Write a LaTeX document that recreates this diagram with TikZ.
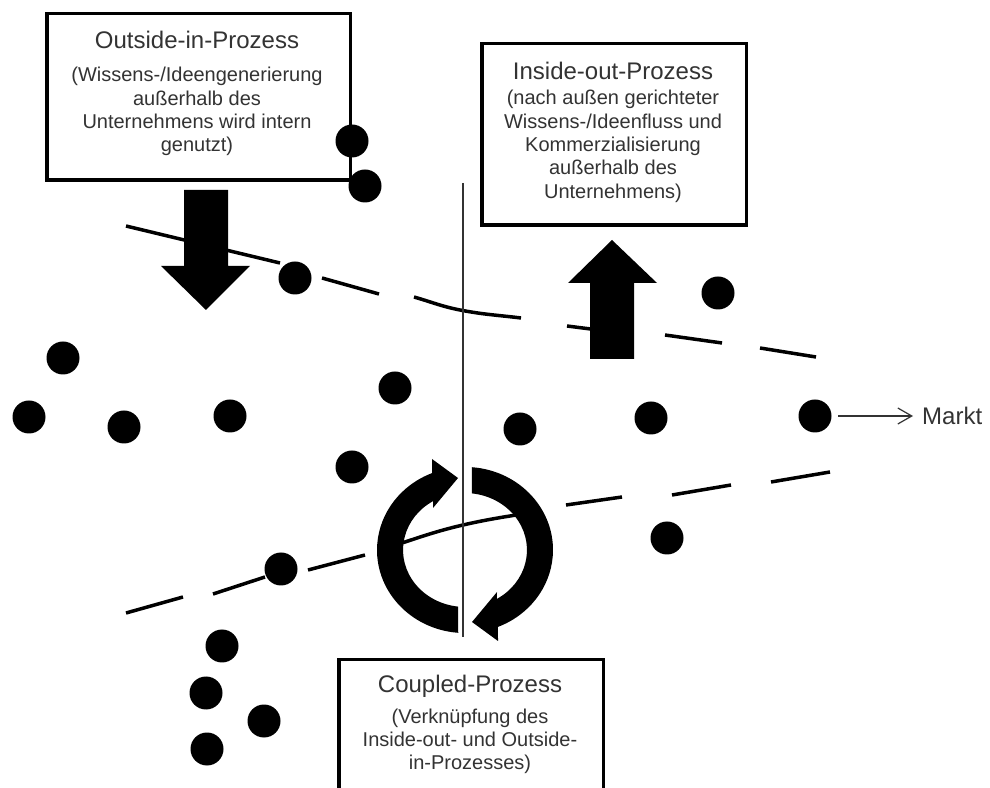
\documentclass[tikz,border=0pt]{standalone}
\usepackage{fontspec}
\setmainfont{Liberation Sans}
\usetikzlibrary{arrows.meta,positioning}
\definecolor{textgrau}{RGB}{51,51,51}

\begin{document}
\begin{tikzpicture}[x=1pt,y=1pt,
        prozessbox/.style={draw=black, line width=3.5pt, fill=white, inner sep=0pt},
        titel/.style={font=\fontsize{24}{28}\selectfont, text=textgrau, inner sep=0pt},
        rumpf/.style={font=\fontsize{20}{23.4}\selectfont, text=textgrau, align=center, inner sep=0pt},
        punkt/.style={circle, fill=black, minimum size=33pt, inner sep=0pt},
        grenze/.style={line width=3.5pt},
        blockpfeil/.style={fill=black}]
    \useasboundingbox (0,0) rectangle (990,787);
    \clip (0,0) rectangle (990,787);

    % Unternehmensgrenze oben
    \draw[grenze] (126,561) -- (280,524);
    \draw[grenze] (322,509) -- (379,493);
    \draw[grenze] (414,490) to[out=-16,in=169] (460,477) to[out=-11,in=173] (521,469);
    \draw[grenze] (567,461) -- (622,454);
    \draw[grenze] (665,452) -- (722,444);
    \draw[grenze] (760,439) -- (816,430);

    % Unternehmensgrenze unten
    \draw[grenze] (126,174) -- (183,190);
    \draw[grenze] (213,193) -- (265,210);
    \draw[grenze] (308,217) -- (365,232);
    \draw[grenze] (380,237) to[out=17,in=193] (463,262) to[out=13,in=190] (540,276);
    \draw[grenze] (566,282) -- (622,290);
    \draw[grenze] (672,292) -- (731,302);
    \draw[grenze] (771,305) -- (830,315);

    % Trennlinie
    \draw[line width=1.2pt, textgrau] (463,604) -- (463,150);

    % Outside-in / Inside-out Pfeile
    \fill[blockpfeil] (184,597) -- (228,597) -- (228,521) -- (250,521) -- (206,477) -- (161,521) -- (184,521) -- cycle;
    \fill[blockpfeil] (590,428) -- (634,428) -- (634,504) -- (657,504) -- (612,547) -- (568,504) -- (590,504) -- cycle;

    % Kreislauf (Coupled)
    \foreach \dreh in {0,180}
        \fill[blockpfeil, rotate around={\dreh:(465,237)}] (458.25,154.2)
            arc[start angle=265.6, end angle=112, x radius=88, y radius=83]
            -- (432,328) -- (458,309) -- (433,279) -- (433.1,285.9)
            arc[start angle=121, end angle=263.5, x radius=62, y radius=57] -- cycle;

    % Outside-in-Prozess
    \node[prozessbox, minimum width=303.5pt, minimum height=166.5pt] (outin) at (198.5,690) {};
    \node[titel] (outin-titel) at (197,747.5) {Outside-in-Prozess};
    \node[rumpf] (outin-text) at (197,675.3) {(Wissens-/Ideengenerierung\\außerhalb des\\Unternehmens wird intern\\genutzt)};

    % Inside-out-Prozess
    \node[prozessbox, minimum width=264.5pt, minimum height=181.5pt] (inout) at (614,652.5) {};
    \node[titel] (inout-titel) at (613,715.8) {Inside-out-Prozess};
    \node[rumpf] (inout-text) at (613,640.7) {(nach außen gerichteter\\Wissens-/Ideenfluss und\\Kommerzialisierung\\außerhalb des\\Unternehmens)};

    % Coupled-Prozess
    \node[prozessbox, minimum width=264.5pt, minimum height=160pt] (coupled) at (471,47.25) {};
    \node[titel] (coupled-titel) at (470,100.25) {Coupled-Prozess};
    \node[rumpf] (coupled-text) at (470,45.7) {(Verknüpfung des\\Inside-out- und Outside-\\in-Prozesses)};

    % Punkte
    \foreach \x/\y [count=\i] in {352/646, 365/601, 295/509, 63/429, 29/370, 124/360, 230/371,
            395/399, 352/320, 520/358, 651/369, 815/371, 718/494, 667/249, 281/218,
            222/141, 206/94, 264/66, 207/38}
        \node[punkt] (p\i) at (\x,\y) {};

    % Markt
    \node[titel, anchor=west] (markt) at (922,371) {Markt};
    \draw[textgrau, line width=1.2pt, -{Straight Barb[length=14pt,width=16pt]}, shorten <=6.5pt, shorten >=9pt] (p12) -- (markt);
\end{tikzpicture}
\end{document}
